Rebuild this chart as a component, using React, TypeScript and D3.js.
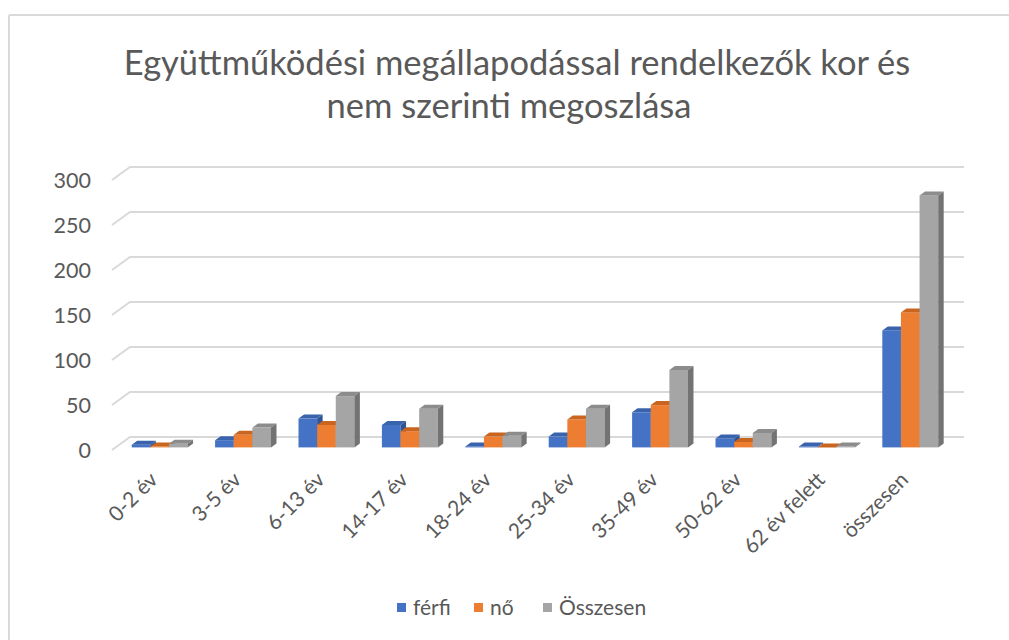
import React from "react";
import * as d3 from "d3";

const categories = ["0-2 év", "3-5 év", "6-13 év", "14-17 év", "18-24 év", "25-34 év", "35-49 év", "50-62 év", "62 év felett", "összesen"];
const ferfi = [3, 8, 32, 25, 1, 12, 39, 10, 1, 130];
const no = [1, 14, 25, 18, 12, 31, 47, 6, 0, 150];
const osszesen = [4, 22, 57, 43, 13, 43, 86, 16, 1, 280];
const seriesNames = ["férfi", "nő", "Összesen"];
const yTicks = [0, 50, 100, 150, 200, 250, 300];

const seriesData = [ferfi, no, osszesen];
const colors = [
  { front: "#4472C4", top: "#3A63AE", side: "#2F5597" },
  { front: "#ED7D31", top: "#C9651F", side: "#B35A1A" },
  { front: "#A5A5A5", top: "#8C8C8C", side: "#737373" },
];

const FONT = "Lato, 'Open Sans', sans-serif";
const TEXT = "#595959";

export default function App() {
  const W = 1009, H = 640;
  const floorX0 = 112;
  const y = d3.scaleLinear().domain([0, 300]).range([450, 180]);
  const depthX = 18, depthY = 13;
  const backX1 = 964;
  const x = d3.scaleBand<string>().domain(categories).range([128.1, 934.6]).paddingInner(0.33).paddingOuter(0);
  const bw = x.bandwidth() / 3;
  const bShiftX = 3.6, bShiftY = 2.6;
  const bdx = 5.5, bdy = 4;
  const base = y(0) - bShiftY;
  const k = (y(0) - y(1));

  return (
    <svg width={W} height={H} style={{ display: "block", position: "absolute", left: 0, top: 0 }} viewBox={`0 0 ${W} ${H}`}>
      <rect x={0} y={0} width={W} height={H} fill="#fff" />
      <line x1={9} y1={15} x2={W} y2={15} stroke="#d9d9d9" strokeWidth={2} />
      <line x1={9} y1={15} x2={9} y2={H} stroke="#d9d9d9" strokeWidth={2} />
      <text x={517} y={75} textAnchor="middle" fill={TEXT} fontFamily={FONT} fontSize={34.5}>
        Együttműködési megállapodással rendelkezők kor és
      </text>
      <text x={509} y={118} textAnchor="middle" fill={TEXT} fontFamily={FONT} fontSize={34.5}>
        nem szerinti megoszlása
      </text>
      {yTicks.map((t) => (
        <g key={t}>
          <polyline
            points={`${floorX0},${y(t)} ${floorX0 + depthX},${y(t) - depthY} ${backX1},${y(t) - depthY}`}
            fill="none" stroke="#d9d9d9" strokeWidth={2}
          />
          <text x={91} y={y(t)} dy="0.35em" textAnchor="end" fill={TEXT} fontFamily={FONT} fontSize={21.5}>
            {t}
          </text>
        </g>
      ))}
      {categories.map((c, ci) => (
        <g key={c}>
          {seriesData.map((s, si) => {
            const x0 = (x(c) as number) + si * bw + bShiftX;
            const h = s[ci] * k;
            const yt = base - h;
            const col = colors[si];
            return (
              <g key={si}>
                <rect x={x0} y={yt} width={bw} height={h} fill={col.front} />
                <polygon points={`${x0},${yt} ${x0 + bw},${yt} ${x0 + bw + bdx},${yt - bdy} ${x0 + bdx},${yt - bdy}`} fill={col.top} />
                <polygon points={`${x0 + bw},${yt} ${x0 + bw + bdx},${yt - bdy} ${x0 + bw + bdx},${base - bdy} ${x0 + bw},${base}`} fill={col.side} />
              </g>
            );
          })}
          <text
            transform={`translate(${(x(c) as number) + x.bandwidth() / 2 + 3},${481}) rotate(-45)`}
            textAnchor="end" fill={TEXT} fontFamily={FONT} fontSize={21}
          >
            {c}
          </text>
        </g>
      ))}
      {seriesNames.map((n, i) => {
        const lx = [397, 474, 543][i];
        return (
          <g key={n}>
            <rect x={lx} y={603} width={9} height={9} fill={colors[i].front} />
            <text x={lx + 16} y={608} dy="0.35em" fill={TEXT} fontFamily={FONT} fontSize={21}>{n}</text>
          </g>
        );
      })}
    </svg>
  );
}
